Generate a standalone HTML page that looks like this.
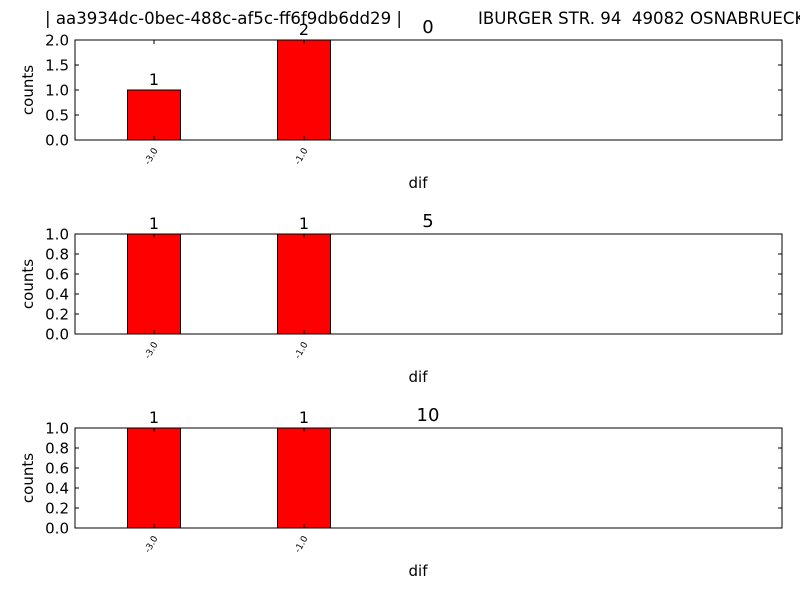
<!DOCTYPE html>
<html><head><meta charset="utf-8"><style>
body{margin:0;background:#fff;}
svg{display:block;font-family:"DejaVu Sans","Liberation Sans",sans-serif;}
</style></head><body>
<svg id="chart" width="800" height="600">
<text x="45" y="24" font-size="16.6" style="white-space:pre">| aa3934dc-0bec-488c-af5c-ff6f9db6dd29 |<tspan x="478">IBURGER STR. 94  49082 OSNABRUECK</tspan></text>
</svg>
<script>
const categories = ["-3.0", "-1.0"];
const panelTitles = ["0", "5", "10"];
const panelValues = [[1, 2], [1, 1], [1, 1]];
const panelYTicks = [["0.0","0.5","1.0","1.5","2.0"], ["0.0","0.2","0.4","0.6","0.8","1.0"], ["0.0","0.2","0.4","0.6","0.8","1.0"]];
const panelYMax = [2, 1, 1];

const NS = "http://www.w3.org/2000/svg";
const svg = document.getElementById("chart");
function mk(tag, attrs, parent){const e=document.createElementNS(NS,tag);for(const k in attrs)e.setAttribute(k,attrs[k]);(parent||svg).appendChild(e);return e;}
const L=75,R=782,H=100,tops=[40,234,428];
const x0=154,unit=150,barW=53;
function xs(i){return x0+i*unit;}
panelTitles.forEach((t,p)=>{
  const T=tops[p],B=T+H;
  const g=mk("g",{});
  
  
  const ys=v=>B-v/panelYMax[p]*H;
  panelValues[p].forEach((v,i)=>{
    const r=mk("rect",{x:xs(i)-barW/2,y:ys(v),width:barW,height:B-ys(v),fill:"#ff0000",stroke:"#000","stroke-width":1},g);
    
    
    const lb=mk("text",{x:xs(i),y:ys(v)-5,"font-size":16,"text-anchor":"middle"},g);
    lb.textContent=v;
    
    
    mk("line",{x1:xs(i),x2:xs(i),y1:B,y2:B-4,stroke:"#000"},g);
    mk("line",{x1:xs(i),x2:xs(i),y1:T,y2:T+4,stroke:"#000"},g);
    const tl=mk("text",{x:0,y:0,"font-size":9,"text-anchor":"end",transform:`translate(${xs(i)+4},${B+10}) rotate(-60)`},g);
    tl.textContent=categories[i];
    
    
  });
  panelYTicks[p].forEach(s=>{
    const y=ys(parseFloat(s));
    mk("line",{x1:L,x2:L+4,y1:y,y2:y,stroke:"#000"},g);
    mk("line",{x1:R,x2:R-4,y1:y,y2:y,stroke:"#000"},g);
    const tt=mk("text",{x:L-6,y:y+5.5,"font-size":15,"text-anchor":"end"},g);
    tt.textContent=s;
    
    
  });
  const fr=mk("rect",{x:L,y:T,width:R-L,height:H,fill:"none",stroke:"#000","stroke-width":1},g);
  
  
  const ti=mk("text",{x:428,y:T-7,"font-size":18,"text-anchor":"middle"},g);
  ti.textContent=t;
  
  
  const xl=mk("text",{x:418,y:B+48,"font-size":15,"text-anchor":"middle"},g);
  xl.textContent="dif";
  
  
  const yl=mk("text",{x:0,y:0,"font-size":15,"text-anchor":"middle",transform:`translate(33,${T+H/2}) rotate(-90)`},g);
  yl.textContent="counts";
  
  
});
</script>
</body></html>
